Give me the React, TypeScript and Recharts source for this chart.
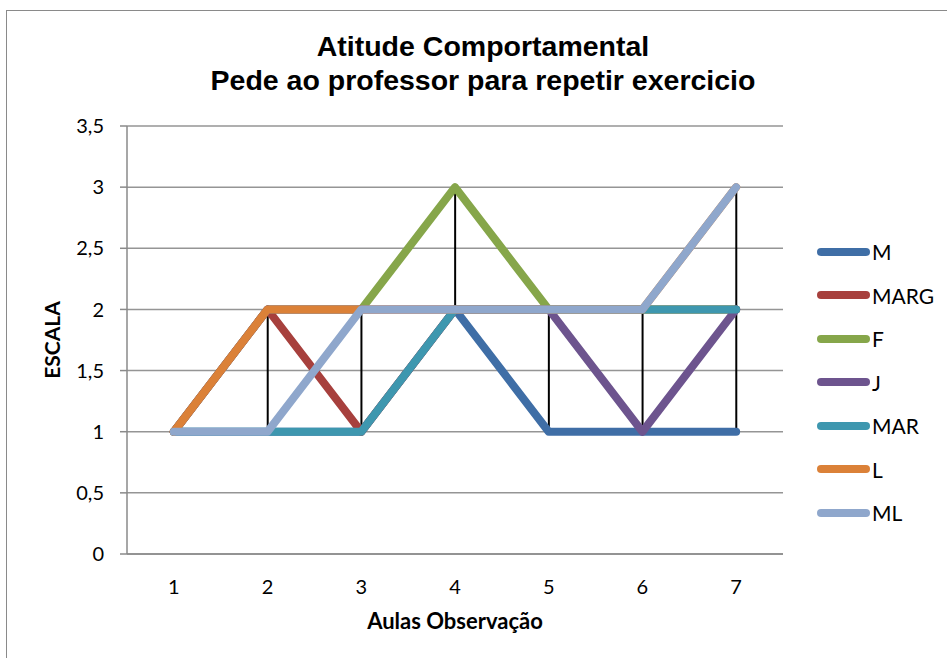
import React from "react";
import { ComposedChart, Line, Bar, XAxis, YAxis, CartesianGrid, Label } from "recharts";

const aulas = ["1", "2", "3", "4", "5", "6", "7"];

const serieM = [1, 1, 1, 2, 1, 1, 1];
const serieMARG = [1, 2, 1, 2, 2, 2, 2];
const serieF = [1, 2, 2, 3, 2, 2, 2];
const serieJ = [1, 2, 2, 2, 2, 1, 2];
const serieMAR = [1, 1, 1, 2, 2, 2, 2];
const serieL = [1, 2, 2, 2, 2, 2, 3];
const serieML = [1, 1, 2, 2, 2, 2, 3];

const yTicks = [0, 0.5, 1, 1.5, 2, 2.5, 3, 3.5];

const series = [
  { key: "M", values: serieM, color: "#3F6EA6" },
  { key: "MARG", values: serieMARG, color: "#A7403D" },
  { key: "F", values: serieF, color: "#86A64A" },
  { key: "J", values: serieJ, color: "#6D548E" },
  { key: "MAR", values: serieMAR, color: "#3E97AF" },
  { key: "L", values: serieL, color: "#DB8138" },
  { key: "ML", values: serieML, color: "#8FA7CC" },
];

// one row per class, plus the low/high span used for the black drop lines
const data = aulas.map((aula, i) => {
  const row: Record<string, any> = { aula };
  const vals = series.map((s) => s.values[i]);
  series.forEach((s) => (row[s.key] = s.values[i]));
  row.hl = [Math.min(...vals), Math.max(...vals)];
  return row;
});

const font = "Lato, 'Open Sans', sans-serif";

export default function App() {
  return (
    <div style={{ position: "absolute", left: 0, top: 0, width: 947, height: 658, overflow: "hidden", background: "#fff" }}>
      <div
        style={{
          position: "absolute",
          left: 6,
          top: 10,
          width: 1000,
          height: 700,
          border: "1.5px solid #8a8a8a",
        }}
      />
      <div
        style={{
          position: "absolute",
          left: 0,
          top: 29,
          width: 966,
          textAlign: "center",
          fontFamily: "'Liberation Sans', Arial, sans-serif",
          fontWeight: "bold",
          fontSize: 28.5,
          lineHeight: "34px",
          color: "#000",
        }}
      >
        <div>Atitude Comportamental</div>
        <div>Pede ao professor para repetir exercicio</div>
      </div>

      <div style={{ position: "absolute", left: 0, top: 0 }}>
        <ComposedChart
          width={947}
          height={658}
          data={data}
          margin={{ top: 126, right: 164, bottom: 0, left: 0 }}
        >
          <CartesianGrid vertical={false} stroke="#959595" strokeWidth={1.5} />
          <XAxis
            dataKey="aula"
            height={104}
            stroke="#8a8a8a"
            strokeWidth={1.5}
            tickLine={false}
            tickMargin={20}
            tick={{ fill: "#000", fontSize: 20, fontFamily: font }}
          >
            <Label
              value="Aulas Observação"
              position="insideBottom"
              offset={29}
              style={{ fontFamily: font, fontWeight: "bold", fontSize: 22, fill: "#000" }}
            />
          </XAxis>
          <YAxis
            width={127}
            domain={[0, 3.5]}
            ticks={yTicks}
            interval={0}
            stroke="#8a8a8a"
            strokeWidth={1.5}
            tickSize={7}
            tickMargin={16}
            tickFormatter={(v: number) => String(v).replace(".", ",")}
            tick={{ fill: "#000", fontSize: 20, fontFamily: font }}
          >
            <Label
              value="ESCALA"
              angle={-90}
              position="insideLeft"
              offset={53}
              style={{ fontFamily: font, fontWeight: "bold", fontSize: 21, fill: "#000", textAnchor: "middle" }}
            />
          </YAxis>
          {series.map((s) => (
            <Line
              key={s.key}
              dataKey={s.key}
              stroke={s.color}
              strokeWidth={8}
              strokeLinecap="round"
              strokeLinejoin="round"
              dot={false}
              activeDot={false}
              isAnimationActive={false}
            />
          ))}
          <Bar dataKey="hl" fill="#000" barSize={2} isAnimationActive={false} />
        </ComposedChart>
      </div>

      <div style={{ position: "absolute", left: 813, top: 230, fontFamily: font, fontSize: 21, color: "#000" }}>
        {series.map((s) => (
          <div key={s.key} style={{ display: "flex", alignItems: "center", height: 43.5 }}>
            <svg width={59} height={12}>
              <line x1={8} y1={6} x2={53} y2={6} stroke={s.color} strokeWidth={8} strokeLinecap="round" />
            </svg>
            <span>{s.key}</span>
          </div>
        ))}
      </div>
    </div>
  );
}
